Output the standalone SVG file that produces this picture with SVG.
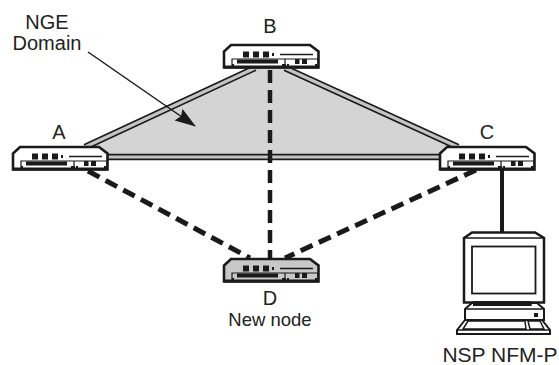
<svg xmlns="http://www.w3.org/2000/svg" width="559" height="365" viewBox="0 0 559 365">
<style>
text{font-family:"Liberation Sans",Arial,sans-serif;font-size:20px;fill:#222;text-anchor:middle}
.band{fill:none;stroke:#1a1a1a;stroke-width:6.500}
.core{fill:none;stroke:#c4c4c4;stroke-width:3.200}
.dash{fill:none;stroke:#1a1a1a;stroke-width:5;stroke-dasharray:13 7}
.o{fill:none;stroke:#1a1a1a;stroke-width:1.500}
.k{fill:#1a1a1a}
</style>
<defs>
<marker id="ah" markerUnits="userSpaceOnUse" markerWidth="22" markerHeight="16" refX="20" refY="7" orient="auto"><path d="M0 0L21 7L0 14L3 7Z" fill="#1a1a1a"/></marker>
<g id="router">
<path d="M8 1H87L95.500 7.500V23.500H1V7.500Z" fill="inherit" stroke="#1a1a1a" stroke-width="2.600"/>
<path d="M1 23H95.500" stroke="#1a1a1a" stroke-width="3" fill="none"/>
<path d="M20 7.500h6v6h-6zM30 7.500h6v6h-6zM40 7.500h6v6h-6zM49 9h2v3h-2z" class="k"/>
<path d="M57 10.500H90" stroke="#1a1a1a" stroke-width="1.400" fill="none"/>
<path d="M9 22V15H62V22M62 15H95V22" fill="none" stroke="#1a1a1a" stroke-width="1.200"/>
<path d="M14 15.500H55V19.500H14ZM72 15h4.500v5h-4.500zM79 15h5v5h-5z" class="k"/>
<path d="M9 20h2v3h-2zM59 20h4v3h-4zM64 20h2v3h-2zM92 20h2v3h-2z" class="k"/>
</g>
</defs>
<path id="domain" d="M85 146L255 68H285L457 146V160H85Z" fill="#d4d4d4"/>
<g id="connectors">
<path class="band" d="M85 147L255 68"/><path class="core" d="M85 147L255 68"/>
<path class="band" d="M285 68L458 147"/><path class="core" d="M285 68L458 147"/>
<path class="band" d="M106 157H440"/><path class="core" d="M106 157H440"/>
<path class="dash" style="stroke-width:4.500" d="M270 70V258"/>
<path class="dash" d="M88 171L250 258"/>
<path class="dash" d="M476 170L285 258"/>
<path d="M502 170V232" fill="none" stroke="#1a1a1a" stroke-width="4"/>
<path d="M88 52L195 126" fill="none" stroke="#1a1a1a" stroke-width="1.500" marker-end="url(#ah)"/>
</g>
<g id="node-a" fill="#fff"><use href="#router" x="12" y="146"/><text x="59" y="139">A</text></g>
<g id="node-b" fill="#fff"><use href="#router" x="223" y="44"/><text x="270" y="33">B</text></g>
<g id="node-c" fill="#fff"><use href="#router" x="439" y="146"/><text x="487" y="139">C</text></g>
<g id="node-d" fill="#c8c8c8"><use href="#router" x="223" y="258"/><text x="270" y="305">D</text><text x="270" y="326" style="font-size:18.500px">New node</text></g>
<g id="nsp-nfm-p">
<path d="M464 238L472 232.500H535L544 238V302.500H464Z" fill="#fff" stroke="#1a1a1a" stroke-width="2.500"/>
<path d="M464 238H544" class="o"/>
<rect x="472" y="246.500" width="63.500" height="47" fill="#fff" stroke="#1a1a1a" stroke-width="1.800"/>
<path d="M474 302V305H530V302ZM465 309L472 303H537L544 309V320H465Z" fill="#fff" stroke="#1a1a1a" stroke-width="2"/>
<path d="M465 309H544M475 305H532" class="o"/>
<rect x="534" y="313" width="4" height="4" class="k"/>
<path d="M465 320L457 330V334H550V330L542 320Z" fill="#fff" stroke="#1a1a1a" stroke-width="2"/>
<path d="M457 330H550M468 321L463 329H526L525 321ZM528 321L530 329H544L540 321Z" class="o"/>
<text x="500" y="362" style="font-size:21px">NSP NFM-P</text>
</g>
<g id="label-domain"><text x="47" y="29">NGE</text><text x="47" y="50">Domain</text></g>
</svg>
